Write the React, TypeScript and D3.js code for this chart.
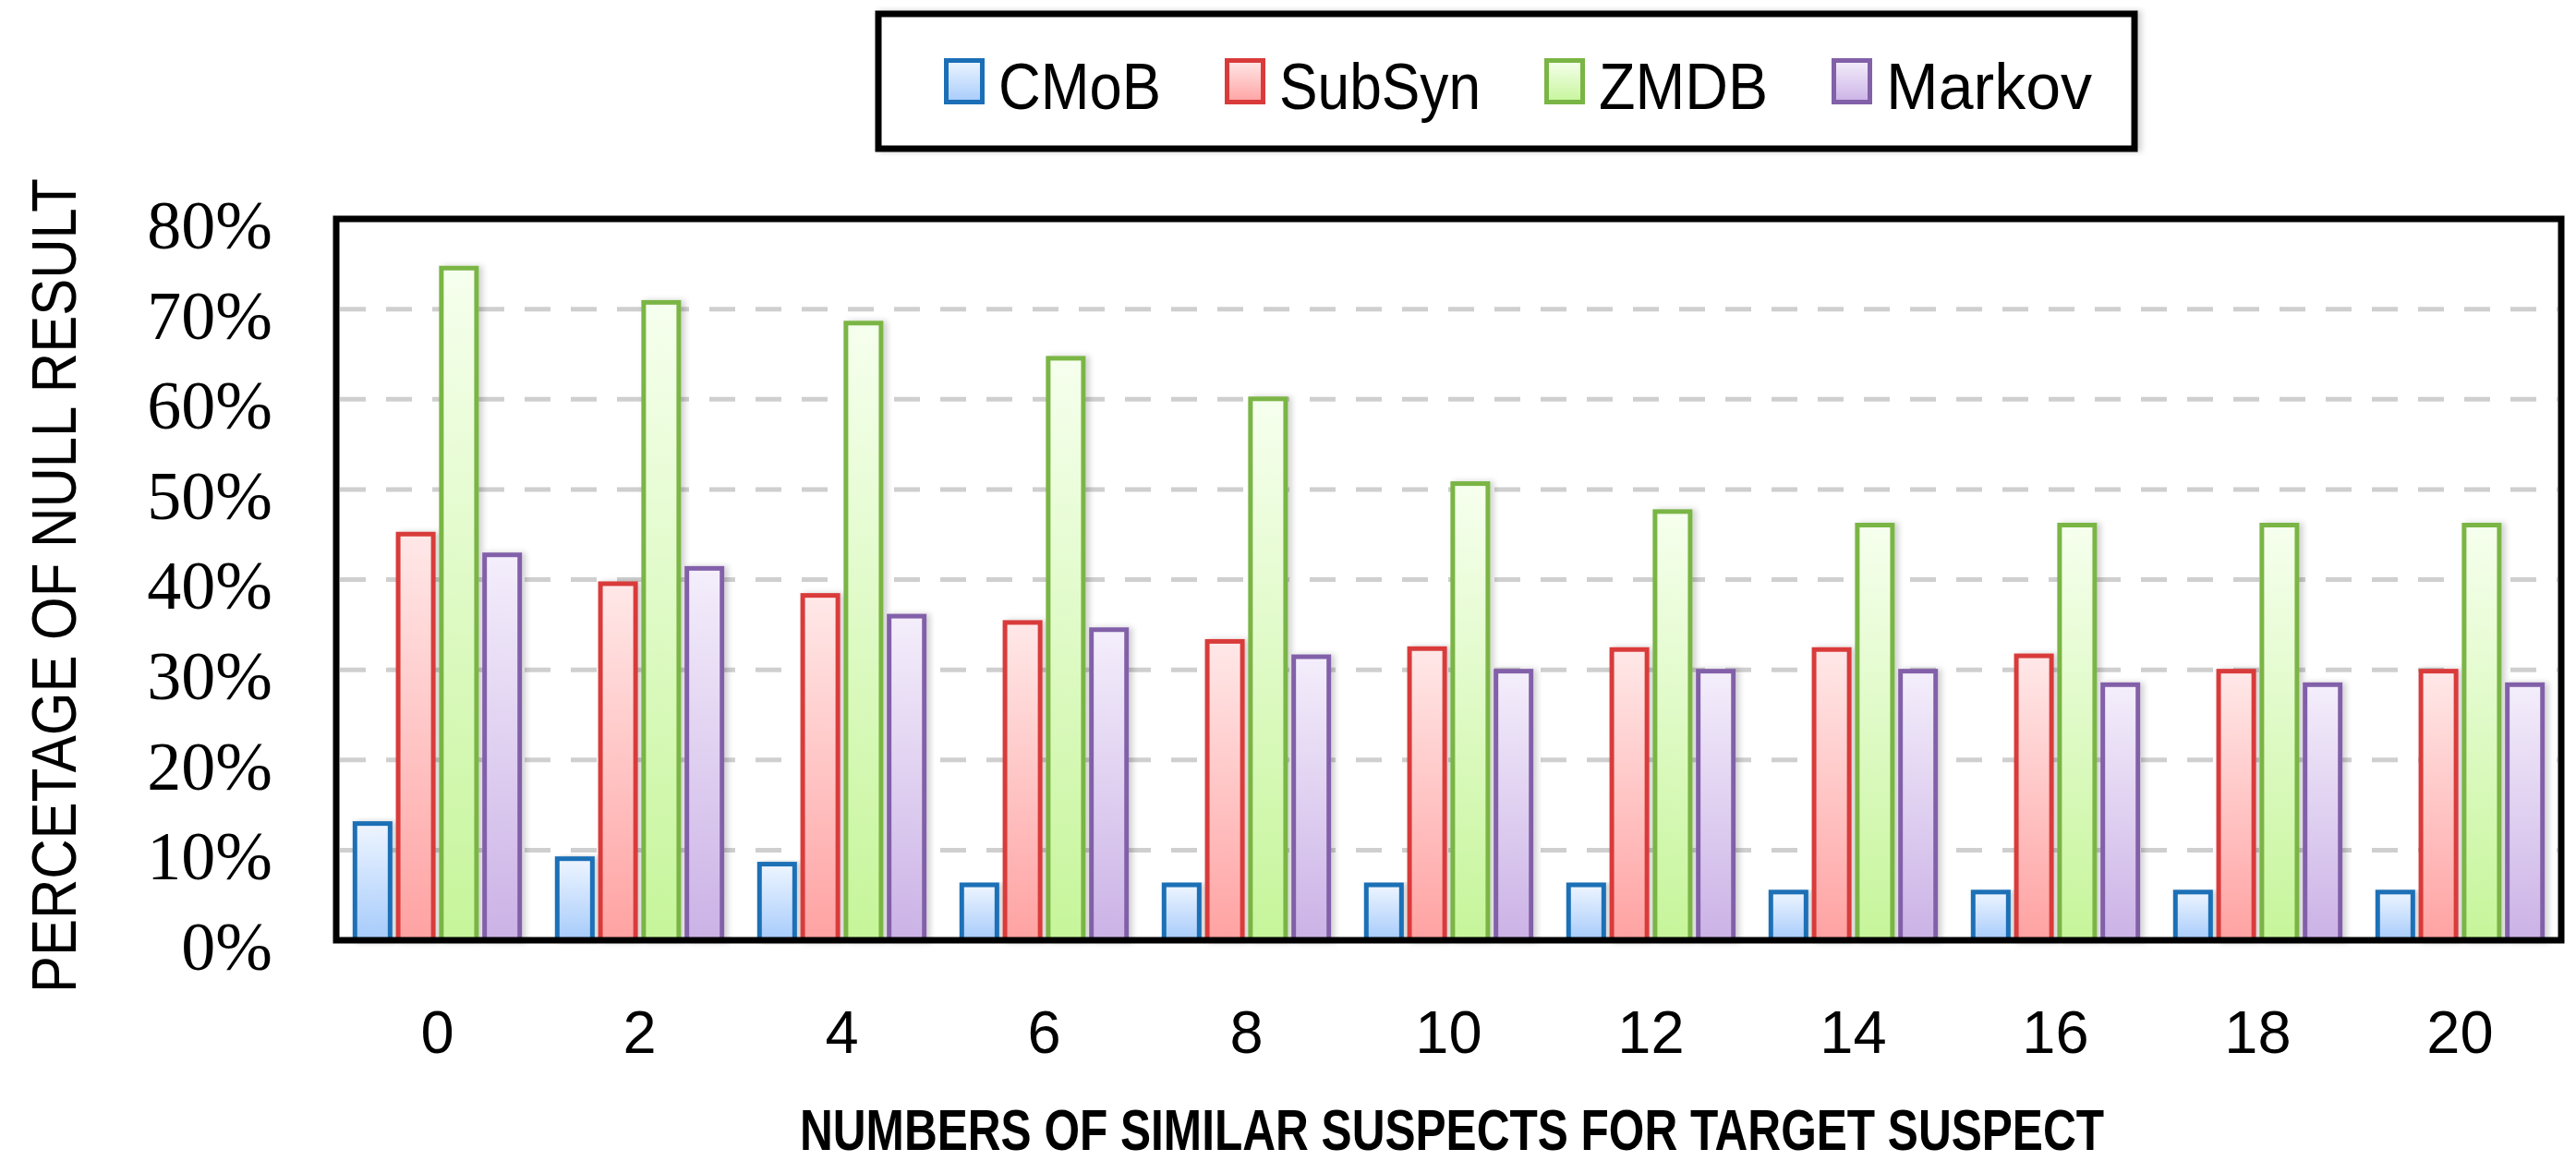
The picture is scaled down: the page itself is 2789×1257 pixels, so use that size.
import React, { useEffect, useRef } from 'react';
import * as d3 from 'd3';

const categories = ['0', '2', '4', '6', '8', '10', '12', '14', '16', '18', '20'];
const seriesNames = ['CMoB', 'SubSyn', 'ZMDB', 'Markov'];

// values in percent
const cmob = [13.2, 9.3, 8.7, 6.4, 6.4, 6.4, 6.4, 5.6, 5.6, 5.6, 5.6];
const subsyn = [45.3, 39.8, 38.5, 35.5, 33.4, 32.6, 32.5, 32.5, 31.8, 30.1, 30.1];
const zmdb = [74.8, 71.0, 68.7, 64.8, 60.3, 50.9, 47.8, 46.3, 46.3, 46.3, 46.3];
const markov = [43.0, 41.5, 36.2, 34.7, 31.7, 30.1, 30.1, 30.1, 28.6, 28.6, 28.6];

const yTicks = [0, 10, 20, 30, 40, 50, 60, 70, 80];

const yTitle = 'PERCETAGE OF NULL RESULT';
const xTitle = 'NUMBERS OF SIMILAR SUSPECTS FOR TARGET SUSPECT';

const palette = [
  { stroke: '#1b6fb6', top: '#eef5ff', bottom: '#a6cbfb' },
  { stroke: '#d93b3b', top: '#ffe8e8', bottom: '#ffa2a2' },
  { stroke: '#7ab545', top: '#f6ffee', bottom: '#c6f59a' },
  { stroke: '#8261a9', top: '#f4eefb', bottom: '#cbb2e6' },
];

const W = 2789;
const H = 1257;

const App: React.FC = () => {
  const svgRef = useRef<SVGSVGElement>(null);

  useEffect(() => {
    if (!svgRef.current) return;
    const svg = d3.select(svgRef.current);
    svg.selectAll('*').remove();

    const plot = { left: 364, right: 2773, top: 237, bottom: 1018 };
    const values = [cmob, subsyn, zmdb, markov];

    const data = categories.map((c, i) => ({
      cat: c,
      vals: seriesNames.map((s, k) => ({ key: s, k, v: values[k][i] })),
    }));

    const x0 = d3.scaleBand().domain(categories).range([plot.left, plot.right]);
    const x1 = d3.scaleBand()
      .domain(seriesNames)
      .range([0, x0.bandwidth()])
      .paddingInner(0.08)
      .paddingOuter(0.38);
    const y = d3.scaleLinear().domain([0, 80]).range([plot.bottom, plot.top]);

    const defs = svg.append('defs');
    palette.forEach((p, k) => {
      const g = defs.append('linearGradient')
        .attr('id', `grad${k}`)
        .attr('x1', 0).attr('y1', 0).attr('x2', 0).attr('y2', 1);
      g.append('stop').attr('offset', '0%').attr('stop-color', p.top);
      g.append('stop').attr('offset', '100%').attr('stop-color', p.bottom);
    });
    const shadow = defs.append('filter').attr('id', 'shadow')
      .attr('x', '-20%').attr('y', '-5%').attr('width', '150%').attr('height', '110%');
    shadow.append('feDropShadow')
      .attr('dx', 4).attr('dy', 0).attr('stdDeviation', 3)
      .attr('flood-color', '#000').attr('flood-opacity', 0.18);

    // gridlines
    svg.append('g')
      .selectAll('line')
      .data(yTicks.filter(t => t > 0 && t < 80))
      .join('line')
      .attr('x1', plot.left + 4)
      .attr('x2', plot.right - 4)
      .attr('y1', d => y(d))
      .attr('y2', d => y(d))
      .attr('stroke', '#cfcfcf')
      .attr('stroke-width', 5)
      .attr('stroke-dasharray', '28 22');

    // bars
    const sw = 5;
    svg.append('g')
      .selectAll('g')
      .data(data)
      .join('g')
      .attr('transform', d => `translate(${x0(d.cat)},0)`)
      .selectAll('rect')
      .data(d => d.vals)
      .join('rect')
      .attr('x', d => (x1(d.key) as number) + sw / 2)
      .attr('width', x1.bandwidth() - sw)
      .attr('y', d => y(d.v) + sw / 2)
      .attr('height', d => y(0) - y(d.v) - sw / 2)
      .attr('fill', d => `url(#grad${d.k})`)
      .attr('stroke', d => palette[d.k].stroke)
      .attr('stroke-width', sw)
      .attr('filter', 'url(#shadow)');

    // plot frame
    svg.append('rect')
      .attr('x', plot.left)
      .attr('y', plot.top)
      .attr('width', plot.right - plot.left)
      .attr('height', plot.bottom - plot.top)
      .attr('fill', 'none')
      .attr('stroke', '#000')
      .attr('stroke-width', 7);

    // y tick labels
    svg.append('g')
      .selectAll('text')
      .data(yTicks)
      .join('text')
      .attr('x', 295)
      .attr('y', d => y(d) + 6)
      .attr('dy', '0.35em')
      .attr('text-anchor', 'end')
      .attr('font-family', '"Liberation Serif", "Times New Roman", serif')
      .attr('font-size', 74)
      .attr('fill', '#000')
      .text(d => `${d}%`);

    // x tick labels
    svg.append('g')
      .selectAll('text')
      .data(categories)
      .join('text')
      .attr('x', d => (x0(d) as number) + x0.bandwidth() / 2)
      .attr('y', 1140)
      .attr('text-anchor', 'middle')
      .attr('font-family', '"Liberation Sans", Arial, sans-serif')
      .attr('font-size', 65)
      .attr('fill', '#000')
      .text(d => d);

    // axis titles
    svg.append('text')
      .attr('transform', `translate(82,${(193 + 1075) / 2}) rotate(-90)`)
      .attr('text-anchor', 'middle')
      .attr('font-family', '"Liberation Sans", Arial, sans-serif')
      .attr('font-size', 68)
      .attr('textLength', 882)
      .attr('lengthAdjust', 'spacingAndGlyphs')
      .attr('fill', '#000')
      .text(yTitle);

    svg.append('text')
      .attr('x', 1572)
      .attr('y', 1245)
      .attr('text-anchor', 'middle')
      .attr('font-family', '"Liberation Sans", Arial, sans-serif')
      .attr('font-weight', 'bold')
      .attr('font-size', 63)
      .attr('textLength', 1412)
      .attr('lengthAdjust', 'spacingAndGlyphs')
      .attr('fill', '#000')
      .text(xTitle);

    // legend
    const legend = svg.append('g');
    legend.append('rect')
      .attr('x', 951).attr('y', 15)
      .attr('width', 1360).attr('height', 146)
      .attr('fill', '#fff')
      .attr('stroke', '#000')
      .attr('stroke-width', 7)
      .attr('filter', 'url(#shadow)');

    const textWidths = [176, 218, 183, 223];
    const swatch = 44;
    const gapAfterSwatch = 15;
    const itemGap = 69;
    let cx = 1022;
    seriesNames.forEach((name, k) => {
      legend.append('rect')
        .attr('x', cx + 2.5).attr('y', 65.5)
        .attr('width', swatch - 5).attr('height', 45)
        .attr('fill', `url(#grad${k})`)
        .attr('stroke', palette[k].stroke)
        .attr('stroke-width', 5);
      legend.append('text')
        .attr('x', cx + swatch + gapAfterSwatch)
        .attr('y', 118)
        .attr('font-family', '"Liberation Sans", Arial, sans-serif')
        .attr('font-size', 70)
        .attr('textLength', textWidths[k])
        .attr('lengthAdjust', 'spacingAndGlyphs')
        .attr('fill', '#000')
        .text(name);
      cx += swatch + gapAfterSwatch + textWidths[k] + itemGap;
    });
  }, []);

  return (
    <svg
      ref={svgRef}
      width={W}
      height={H}
      style={{ position: 'absolute', left: 0, top: 0, background: '#fff' }}
    />
  );
};

export default App;
